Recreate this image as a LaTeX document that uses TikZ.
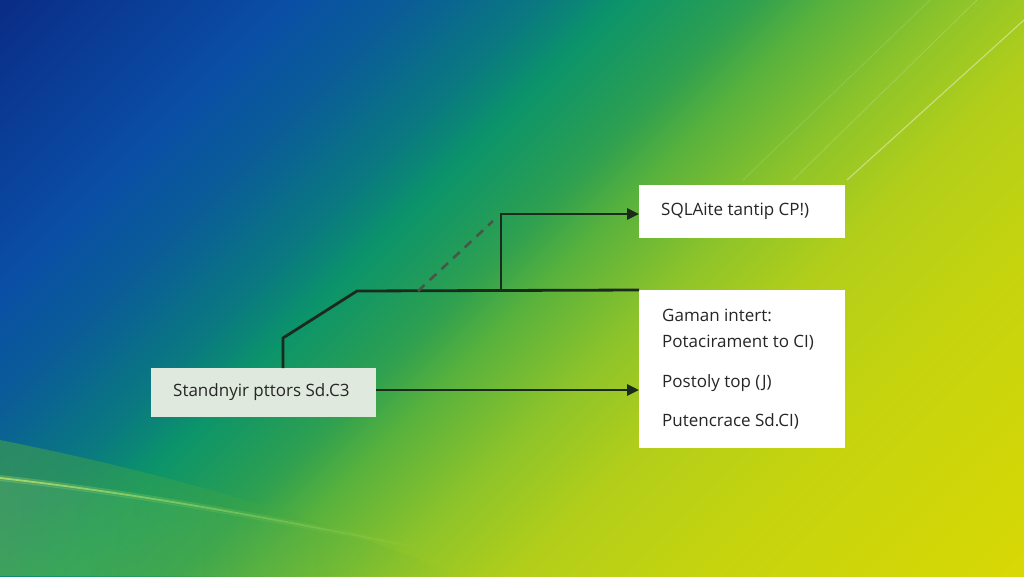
\documentclass[tikz,border=0pt]{standalone}
\usepackage{fontspec}
\setmainfont{Open Sans}
\usetikzlibrary{arrows.meta,fadings}
\definecolor{g0}{HTML}{0A2C86}
\definecolor{g1}{HTML}{0A4EA6}
\definecolor{g2}{HTML}{0A5E96}
\definecolor{g3}{HTML}{0A7A80}
\definecolor{g4}{HTML}{0C946A}
\definecolor{g5}{HTML}{2EA050}
\definecolor{g6}{HTML}{5AB23C}
\definecolor{g7}{HTML}{8EC42A}
\definecolor{g8}{HTML}{B2CE1A}
\definecolor{g9}{HTML}{C6D40E}
\definecolor{g10}{HTML}{D8D804}
\definecolor{linec}{HTML}{1B2A1C}
\definecolor{leftfill}{HTML}{DFE9DD}
\definecolor{glow}{HTML}{C8F070}
\definecolor{lowgreen}{HTML}{48A844}
% the path is mapped onto 25bp..75bp of the shading
\pgfdeclarehorizontalshading{bggrad}{100bp}{
  color(0bp)=(g0); color(25bp)=(g0); color(34bp)=(g1); color(38bp)=(g2); color(42bp)=(g3);
  color(44.5bp)=(g4); color(48.5bp)=(g5); color(51bp)=(g6); color(55bp)=(g7);
  color(59bp)=(g8); color(65bp)=(g9); color(75bp)=(g10); color(100bp)=(g10)}
\tikzset{
  box/.style={draw=none, fill=white, inner sep=0pt, anchor=north west},
  conn/.style={draw=linec, line width=2.8pt, line join=miter},
  arr/.style={conn, -{Triangle[length=12pt,width=11pt]}},
  dconn/.style={draw=linec!80, line width=2.6pt, dash pattern=on 9pt off 7pt},
  lbl/.style={font=\fontsize{17}{20}\selectfont, text=black!85, anchor=west, inner sep=0pt},
}
\begin{document}
\begin{tikzpicture}[x=1pt,y=-1pt]
\useasboundingbox (0,0) rectangle (1024,576);
\begin{scope}
\clip (0,0) rectangle (1024,576);
\begin{scope}[transform canvas={rotate around={-45:(0,0)}}]
\shade[shading=bggrad] (-2,-726) rectangle (1133,409);
\end{scope}
% greener bottom-left
\fill[lowgreen, opacity=0.55, path fading=east] (0,440) .. controls (150,470) and (300,510) .. (460,576) -- (0,576) -- cycle;
% bottom-left glow and streak
\fill[glow, opacity=0.12, path fading=east] (0,480) .. controls (150,497) and (280,522) .. (430,552) -- (430,576) -- (0,576) -- cycle;
\draw[glow, opacity=0.25, line width=6pt, path fading=east] (0,478) .. controls (150,495) and (280,520) .. (430,550);
\draw[glow, opacity=0.7, line width=1.8pt, path fading=east] (0,478) .. controls (150,495) and (280,520) .. (430,550);
% light streaks top-right
\draw[white, opacity=0.40, line width=1.2pt] (847,180) -- (1024,20);
\draw[white, opacity=0.18, line width=0.8pt] (793,180) -- (977,0);
\draw[white, opacity=0.14, line width=0.8pt] (743,180) -- (930,0);
\end{scope}
% boxes
\node[box, minimum width=206pt, minimum height=53pt] (top) at (639,185) {};
\node[box, minimum width=206pt, minimum height=158pt] (bot) at (639,290) {};
\node[box, fill=leftfill, minimum width=225pt, minimum height=49pt] (left) at (151,368) {};
% texts
\node[lbl] (t1) at (661,211) {SQLAite tantip CP!)};
\node[lbl] (b1) at (662,315) {Gaman intert:};
\node[lbl] (b2) at (662,343) {Potacirament to CI)};
\node[lbl] (b3) at (662,383) {Postoly top (J)};
\node[lbl] (b4) at (662,421) {Putencrace Sd.CI)};
\node[lbl] (l1) at (173,392) {Standnyir pttors Sd.C3};
% connector points
\coordinate (s0) at (283,368);
\coordinate (s1) at (283,338);
\coordinate (s2) at (357,291);
\coordinate (j1) at (501,291);
\coordinate (j2) at (501,214);
\coordinate (d0) at (418,291);
\coordinate (d1) at (493,221);
\coordinate (e1) at (376,390);
\coordinate (e2) at (639,390);
\coordinate (tw) at (639,214);
% connectors
\draw[conn] (s0) -- (s1) -- (s2) -- (bot.north west);
\draw[arr] (j1) -- (j2) -- (tw);
\draw[dconn] (d0) -- (d1);
\draw[arr] (e1) -- (e2);
\end{tikzpicture}
\end{document}
